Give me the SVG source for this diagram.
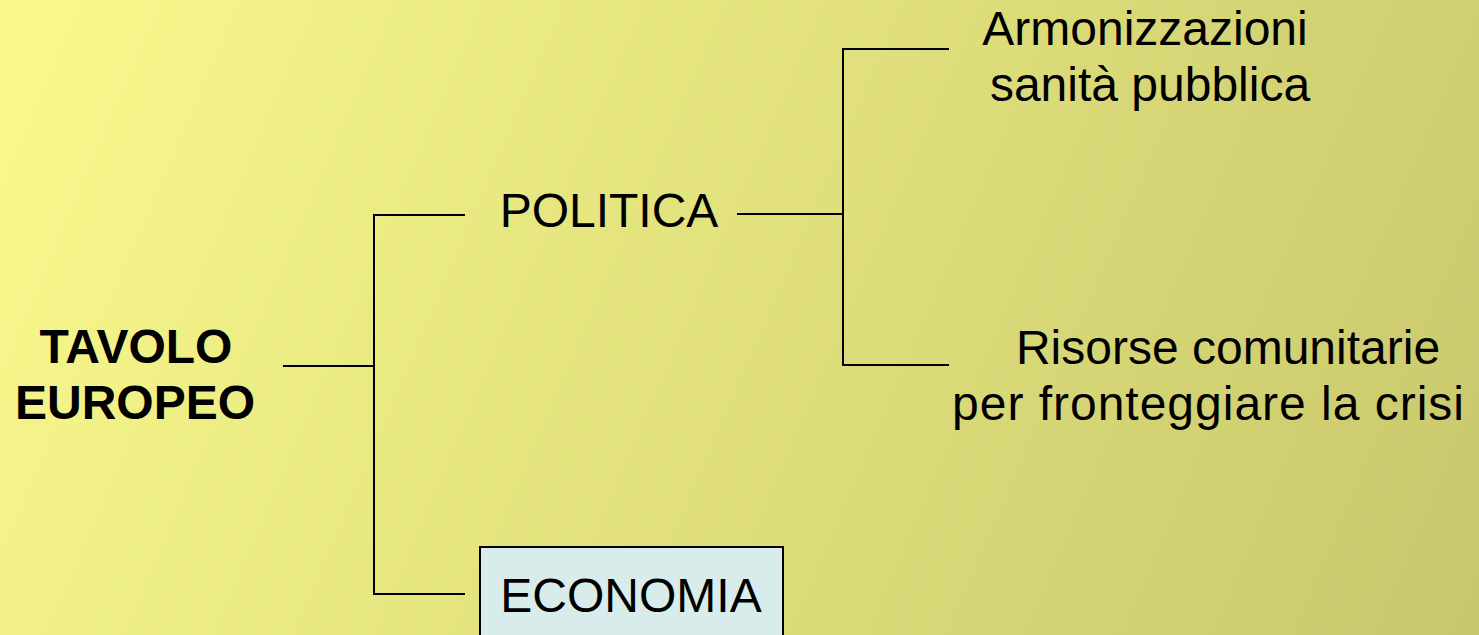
<svg xmlns="http://www.w3.org/2000/svg" width="1479" height="635" viewBox="0 0 1479 635">
<defs>
<linearGradient id="bg" gradientUnits="userSpaceOnUse" x1="0" y1="0" x2="1479" y2="635">
<stop offset="0" stop-color="#f9f98d"/>
<stop offset="1" stop-color="#c8c76c"/>
</linearGradient>
<style>
.t{font-family:"Liberation Sans",Arial,sans-serif;font-size:48px;fill:#000;text-anchor:middle}
.b{font-weight:bold}
.c{fill:none;stroke:#000;stroke-width:2}
</style>
</defs>
<rect x="0" y="0" width="1479" height="635" fill="url(#bg)"/>
<g id="connectors">
<path class="c" d="M283 366H374M465 215H374V594H465"/>
<path class="c" d="M737 214H843M949 49H843V365H949"/>
</g>
<g id="tavolo">
<text class="t b" x="136" y="363">TAVOLO</text>
<text class="t b" x="135" y="419">EUROPEO</text>
</g>
<g id="politica">
<text class="t" x="609" y="227">POLITICA</text>
</g>
<g id="economia">
<rect x="480" y="547" width="303" height="100" fill="#d8ecec" stroke="#000" stroke-width="2"/>
<text class="t" x="631" y="612">ECONOMIA</text>
</g>
<g id="armonizzazioni">
<text class="t" x="1145" y="45">Armonizzazioni</text>
<text class="t" x="1150" y="101">sanità pubblica</text>
</g>
<g id="risorse">
<text class="t" x="1228" y="364">Risorse comunitarie</text>
<text class="t" x="1208" y="420" textLength="512" lengthAdjust="spacing">per fronteggiare la crisi</text>
</g>
</svg>
